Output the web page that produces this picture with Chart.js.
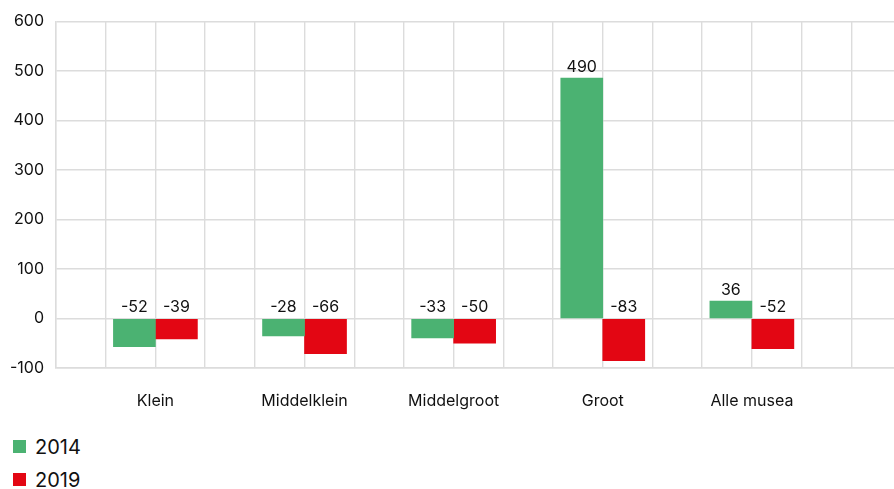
<!DOCTYPE html>
<html>
<head>
<meta charset="utf-8">
<script src="https://cdn.jsdelivr.net/npm/chart.js@4/dist/chart.umd.min.js"></script>
<style>
  html, body { margin: 0; padding: 0; background: #fff; overflow: hidden; width: 894px; height: 489px; }
  #c { position: absolute; left: 0; top: 0; }
  #legend { position: absolute; left: 13px; top: 430px; font-family: Inter, sans-serif; font-size: 20px; color: #111; }
  .item { display: flex; align-items: center; height: 33px; }
  .sw { width: 13px; height: 13px; margin-right: 9px; }
</style>
</head>
<body>
<canvas id="c" width="925" height="420"></canvas>
<div id="legend"></div>
<script>
// ---- data ----
const categories = ['Klein', 'Middelklein', 'Middelgroot', 'Groot', 'Alle musea'];
const seriesNames = ['2014', '2019'];
const values2014 = [-57, -35, -39, 486, 35];
const values2019 = [-41, -71, -50, -85, -61];
const labels2014 = ['-52', '-28', '-33', '490', '36'];
const labels2019 = ['-39', '-66', '-50', '-83', '-52'];
const yTicks = [-100, 0, 100, 200, 300, 400, 500, 600];
const colors = ['#4bb272', '#e30613'];

// category i sits at grid unit 2 + 3*i
const catPos = i => 2 + 3 * i;
const toPoints = arr => arr.map((v, i) => ({ x: catPos(i), y: v }));

const valueLabels = {
  id: 'valueLabels',
  afterDatasetsDraw(chart) {
    const ctx = chart.ctx;
    const yZero = chart.scales.y.getPixelForValue(0);
    ctx.save();
    ctx.font = '16px Inter, sans-serif';
    ctx.fillStyle = '#111';
    ctx.textAlign = 'center';
    ctx.textBaseline = 'bottom';
    chart.data.datasets.forEach((ds, di) => {
      const meta = chart.getDatasetMeta(di);
      meta.data.forEach((bar, i) => {
        const top = Math.min(bar.y, yZero);
        ctx.fillText(ds.valueLabels[i], bar.x, top - 3);
      });
    });
    ctx.restore();
  }
};

const chart = new Chart(document.getElementById('c'), {
  type: 'bar',
  data: {
    datasets: [
      { label: seriesNames[0], data: toPoints(values2014), backgroundColor: colors[0], valueLabels: labels2014, barThickness: 42 },
      { label: seriesNames[1], data: toPoints(values2019), backgroundColor: colors[1], valueLabels: labels2019, barThickness: 42 }
    ]
  },
  options: {
    responsive: false,
    animation: false,
    devicePixelRatio: 1,
    layout: { padding: { top: 21, right: 10, left: 0, bottom: 0 } },
    plugins: { legend: { display: false }, tooltip: { enabled: false } },
    scales: {
      x: {
        type: 'linear',
        min: 0,
        max: 17,
        offset: false,
        grid: { offset: false, color: '#dcdcdc', lineWidth: 1.4, drawTicks: false },
        border: { color: '#dcdcdc', width: 1.4 },
        afterBuildTicks(scale) {
          const t = [];
          for (let v = 0; v <= 17; v++) t.push({ value: v });
          scale.ticks = t;
        },
        afterFit(scale) { scale.height = 52; },
        ticks: {
          autoSkip: false,
          maxRotation: 0,
          padding: 24,
          color: '#111',
          font: { family: 'Inter, sans-serif', size: 16 },
          callback(v) {
            const i = categories.findIndex((c, k) => catPos(k) === v);
            return i >= 0 ? categories[i] : '';
          }
        }
      },
      y: {
        min: -100,
        max: 600,
        grid: { color: '#dcdcdc', lineWidth: 1.4, drawTicks: false },
        border: { color: '#dcdcdc', width: 1.4 },
        afterBuildTicks(scale) { scale.ticks = yTicks.map(v => ({ value: v })); },
        afterFit(scale) { scale.width = 56; },
        ticks: {
          padding: 12,
          color: '#111',
          font: { family: 'Inter, sans-serif', size: 16 }
        }
      }
    }
  },
  plugins: [valueLabels]
});

// legend
const lg = document.getElementById('legend');
chart.data.datasets.forEach(ds => {
  const it = document.createElement('div');
  it.className = 'item';
  const sw = document.createElement('span');
  sw.className = 'sw';
  sw.style.background = ds.backgroundColor;
  const tx = document.createElement('span');
  tx.textContent = ds.label;
  it.appendChild(sw); it.appendChild(tx);
  lg.appendChild(it);
});
</script>
</body>
</html>
